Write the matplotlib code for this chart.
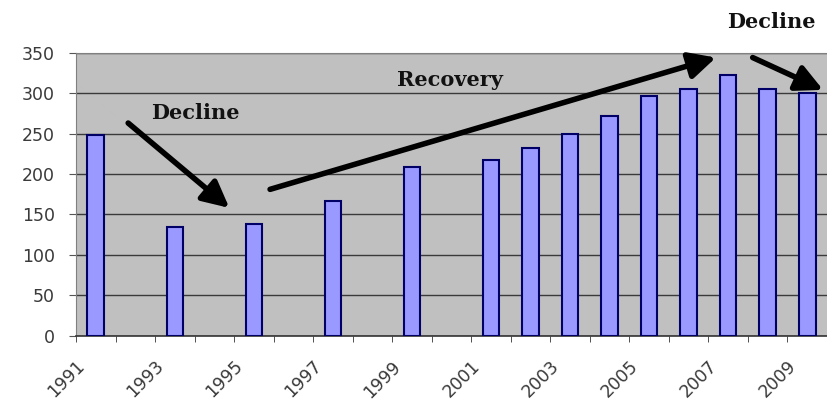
import matplotlib
matplotlib.use("Agg")
import matplotlib.pyplot as plt
from matplotlib.transforms import ScaledTranslation

# categories on the x axis (one slot per year, labels on every second one)
years = list(range(1991, 2010))
tick_years = years[::2]

# bars that exist in the chart
bar_years = [1991, 1993, 1995, 1997, 1999, 2001, 2002, 2003, 2004, 2005, 2006, 2007, 2008, 2009]
bar_values = [248, 134, 138, 167, 209, 217, 232, 250, 272, 296, 305, 322, 305, 300]

# annotation arrows (start, end) in data units and their labels
arrows = [((0.82, 263), (3.38, 158)),
          ((4.41, 181), (15.69, 344)),
          ((16.62, 344), (18.40, 304))]
notes = [("Decline", 2.52, 276), ("Recovery", 8.96, 316), ("Decline", 17.08, 388)]

fig = plt.figure(figsize=(8.27, 4.01), dpi=100)
ax = fig.add_axes([76 / 827, 1 - 335.7 / 401, 751 / 827, 283 / 401])
ax.set_facecolor('#c0c0c0')

pos = [years.index(y) for y in bar_years]
ax.bar(pos, bar_values, width=0.42, color='#9999ff', edgecolor='#000066',
       linewidth=1.5, zorder=3)

ax.set_xlim(-0.5, len(years) - 0.5)
ax.set_ylim(0, 350)
ax.set_yticks(range(0, 351, 50))
ax.yaxis.grid(True, color='#3a3a3a', linewidth=1.0, zorder=1)
ax.set_axisbelow(True)

for side in ('top', 'left'):
    ax.spines[side].set_color('#808080')
ax.spines['right'].set_visible(False)
ax.spines['bottom'].set_color('#333333')
ax.spines['bottom'].set_linewidth(1.2)

# x: labels on every other category, tick marks on category boundaries
ax.set_xticks([years.index(y) for y in tick_years])
ax.set_xticklabels([str(y) for y in tick_years])
ax.set_xticks([i - 0.5 for i in range(len(years) + 1)], minor=True)
ax.tick_params(axis='x', which='major', length=0, pad=4,
               labelsize=12.5, labelcolor='#3a3a3a')
ax.tick_params(axis='x', which='minor', length=4, color='#333333', direction='out')
ax.tick_params(axis='y', length=5, color='#555555', pad=10,
               labelsize=12.5, labelcolor='#3a3a3a')

shift = ScaledTranslation(-20 / 100, -16 / 100, fig.dpi_scale_trans)
for lab in ax.get_xticklabels():
    lab.set_rotation(45)
    lab.set_rotation_mode('anchor')
    lab.set_ha('right')
    lab.set_va('top')
    lab.set_transform(lab.get_transform() + shift)

for start, end in arrows:
    ax.annotate('', xy=end, xytext=start, annotation_clip=False,
                arrowprops=dict(arrowstyle='-|>,head_length=0.8,head_width=0.4',
                                lw=4, color='black', shrinkA=0, shrinkB=0,
                                mutation_scale=20))

for txt, x, y in notes:
    ax.text(x, y, txt, ha='center', va='center', fontsize=15,
            family='DejaVu Serif', weight='bold', color='#111111', clip_on=False)

fig.savefig('out.png', dpi=100)
